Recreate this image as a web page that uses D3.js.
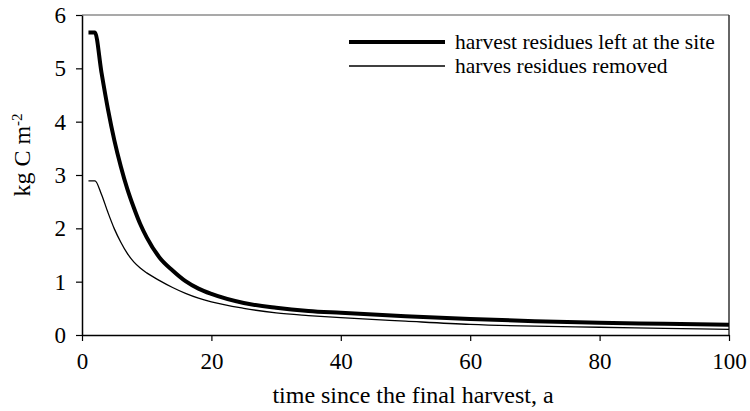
<!DOCTYPE html>
<html>
<head>
<meta charset="utf-8">
<script src="https://cdn.jsdelivr.net/npm/d3@7/dist/d3.min.js"></script>
<style>
  html, body { margin: 0; padding: 0; background: #fff; }
  svg { display: block; }
  svg text { font-family: "Liberation Serif", "Times New Roman", serif; fill: #000; }
</style>
</head>
<body>
<svg id="chart" width="750" height="411"></svg>
<script>
// years since the final harvest
const years = [1, 2, 3, 4, 5, 6, 7, 8, 9, 10, 12, 14, 16, 18, 20, 25, 30, 35, 40, 50, 60, 70, 80, 90, 100];
// carbon in harvest residues, kg C m-2
const residuesLeft = [5.67, 5.67, 4.93, 4.24, 3.65, 3.16, 2.74, 2.39, 2.08, 1.83, 1.45, 1.21, 1.01, 0.87, 0.77, 0.60, 0.51, 0.45, 0.415, 0.35, 0.30, 0.26, 0.23, 0.21, 0.19];
const residuesRemoved = [2.89, 2.89, 2.64, 2.30, 1.99, 1.74, 1.53, 1.37, 1.255, 1.165, 1.02, 0.89, 0.78, 0.69, 0.62, 0.50, 0.415, 0.365, 0.325, 0.26, 0.20, 0.165, 0.145, 0.125, 0.106];
const xTicks = [0, 20, 40, 60, 80, 100];
const yTicks = [0, 1, 2, 3, 4, 5, 6];
const seriesNames = ["harvest residues left at the site", "harves residues removed"];

const svg = d3.select("#chart");
const plotLeft = 82, plotRight = 729, plotTop = 15, plotBottom = 335;

const x = d3.scaleLinear().domain([0, 100]).range([plotLeft, plotRight]);
const y = d3.scaleLinear().domain([0, 6]).range([plotBottom, plotTop]);

// frame: top and right borders
svg.append("line").attr("x1", plotLeft).attr("x2", plotRight).attr("y1", plotTop).attr("y2", plotTop)
  .attr("stroke", "#555").attr("stroke-width", 1.2);
svg.append("line").attr("x1", plotRight).attr("x2", plotRight).attr("y1", plotTop).attr("y2", plotBottom)
  .attr("stroke", "#333").attr("stroke-width", 1.5);

const xAxis = svg.append("g").attr("transform", `translate(0,${plotBottom})`)
  .call(d3.axisBottom(x).tickValues(xTicks).tickFormat(d3.format("d"))
    .tickSize(6).tickSizeOuter(0).tickPadding(12));
const yAxis = svg.append("g").attr("transform", `translate(${plotLeft},0)`)
  .call(d3.axisLeft(y).tickValues(yTicks).tickFormat(d3.format("d"))
    .tickSize(6).tickSizeOuter(0).tickPadding(10));

[xAxis, yAxis].forEach(g => {
  g.attr("font-family", null).attr("font-size", null);
  g.select(".domain").attr("stroke", "#000").attr("stroke-width", 1.5);
  g.selectAll(".tick line").attr("stroke", "#000").attr("stroke-width", 1.2);
  g.selectAll(".tick text").attr("fill", "#000").style("font-size", "23px");
});

// series curves
const line = d3.line().x((d, i) => x(years[i])).y(d => y(d)).curve(d3.curveMonotoneX);
svg.append("path").datum(residuesRemoved).attr("d", line)
  .attr("fill", "none").attr("stroke", "#000").attr("stroke-width", 1.3);
svg.append("path").datum(residuesLeft).attr("d", line)
  .attr("fill", "none").attr("stroke", "#000").attr("stroke-width", 4);

// legend
const legend = svg.append("g");
const legendRows = [
  { name: seriesNames[0], w: 4, y: 42 },
  { name: seriesNames[1], w: 1.3, y: 66 }
];
legendRows.forEach(r => {
  legend.append("line").attr("x1", 349).attr("x2", 445).attr("y1", r.y).attr("y2", r.y)
    .attr("stroke", "#000").attr("stroke-width", r.w);
  legend.append("text").attr("x", 455).attr("y", r.y).attr("dy", "0.33em")
    .style("font-size", "21.5px").text(r.name);
});

// axis titles
svg.append("text").attr("x", 413).attr("y", 403)
  .attr("text-anchor", "middle").style("font-size", "24px")
  .text("time since the final harvest, a");

const yTitle = svg.append("text")
  .attr("transform", "translate(30,155) rotate(-90)")
  .attr("text-anchor", "middle").style("font-size", "24px");
yTitle.append("tspan").text("kg C m");
yTitle.append("tspan").attr("dy", "-0.55em").style("font-size", "15px").text("-2");
</script>
</body>
</html>
